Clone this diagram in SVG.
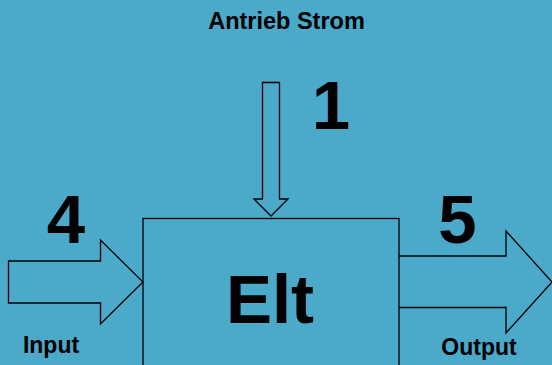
<svg xmlns="http://www.w3.org/2000/svg" width="552" height="365" viewBox="0 0 552 365">
<style>
.shape{fill:none;stroke:#000;stroke-width:1.3;stroke-linejoin:miter}
.lbl{font-family:"Liberation Sans",Arial,sans-serif;font-weight:bold;fill:#000;text-anchor:middle}
.s{font-size:23px}
.t{font-size:23.5px}
.b{font-size:69px}
</style>
<rect x="0" y="0" width="552" height="365" fill="#4ba9c9"/>
<g id="title"><text class="lbl t" x="286.5" y="29">Antrieb Strom</text></g>
<g id="elt">
<rect class="shape" x="143" y="218.5" width="256" height="160"/>
<text class="lbl b" x="270" y="323">Elt</text>
</g>
<g id="num1"><text class="lbl b" x="331" y="129">1</text></g>
<g id="num4"><text class="lbl b" x="66" y="243">4</text></g>
<g id="num5"><text class="lbl b" x="457.5" y="243">5</text></g>
<g id="input"><text class="lbl s" x="51" y="353">Input</text></g>
<g id="output"><text class="lbl s" x="479" y="355">Output</text></g>
<g id="connectors">
<path class="shape" d="M262.5,82.5 H279.5 V199 H288 L271,216 L254,199 H262.5 Z"/>
<path class="shape" d="M8.5,261 H100.5 V240 L143,282 L100.5,324 V303 H8.5 Z"/>
<path class="shape" d="M399,256 H506 V231 L552,282 L506,333 V307.5 H399"/>
</g>
</svg>
